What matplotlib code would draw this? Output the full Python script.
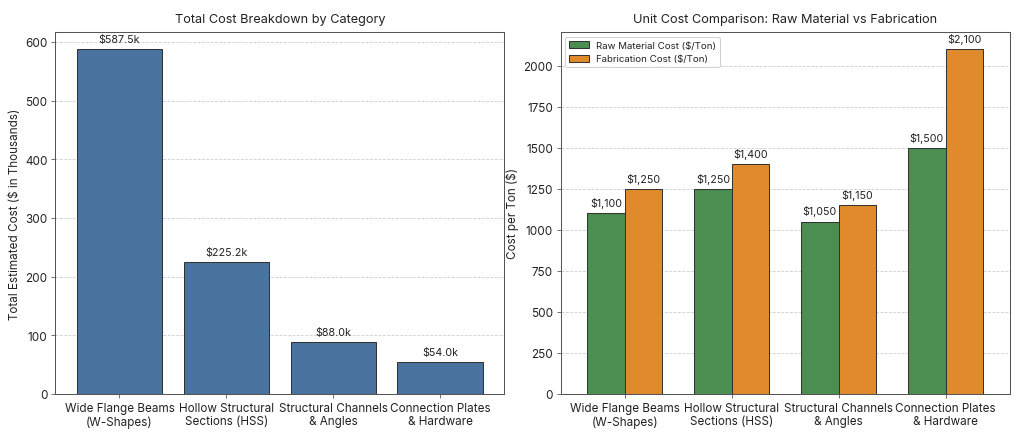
import matplotlib
matplotlib.use("Agg")
import matplotlib.pyplot as plt
import numpy as np

categories = ["Wide Flange Beams\n(W-Shapes)", "Hollow Structural\nSections (HSS)",
              "Structural Channels\n& Angles", "Connection Plates\n& Hardware"]
total_cost_k = [587.5, 225.2, 88.0, 54.0]
raw_material = [1100, 1250, 1050, 1500]
fabrication = [1250, 1400, 1150, 2100]

plt.rcParams['font.family'] = ['Inter', 'DejaVu Sans']
plt.rcParams['text.color'] = '#222222'
plt.rcParams['axes.labelcolor'] = '#222222'
plt.rcParams['xtick.color'] = '#222222'
plt.rcParams['ytick.color'] = '#222222'

fig, (ax1, ax2) = plt.subplots(1, 2, figsize=(14, 6), dpi=1024/14)
fig.subplots_adjust(left=0.054, right=0.986, bottom=0.100, top=0.925, wspace=0.125)

edge = '#333333'
for ax in (ax1, ax2):
    ax.set_axisbelow(True)
    ax.yaxis.grid(True, linestyle='--', color='#cccccc', linewidth=0.8)
    for s in ax.spines.values():
        s.set_color('#555555')
        s.set_linewidth(1.0)
    ax.tick_params(axis='both', labelsize=11.5, color='#555555', length=4)

x = np.arange(len(categories))
bars = ax1.bar(x, total_cost_k, width=0.8, color='#4a73a0', edgecolor=edge, linewidth=1)
ax1.set_ylim(0, max(total_cost_k) * 1.05)
ax1.set_xlim(-0.6, 3.6)
ax1.set_xticks(x)
ax1.set_xticklabels(categories)
ax1.set_ylabel("Total Estimated Cost ($ in Thousands)", fontsize=11.5, labelpad=4)
ax1.set_title("Total Cost Breakdown by Category", fontsize=12.5, pad=10)
for b, v in zip(bars, total_cost_k):
    ax1.annotate(f"${v:.1f}k", (b.get_x() + b.get_width()/2, b.get_height()),
                 xytext=(0, 5), textcoords='offset points', ha='center', va='bottom', fontsize=10.5)

w = 0.35
b1 = ax2.bar(x - w/2, raw_material, width=w, color='#4a8f50', edgecolor=edge, linewidth=1,
             label='Raw Material Cost ($/Ton)')
b2 = ax2.bar(x + w/2, fabrication, width=w, color='#e08a2c', edgecolor=edge, linewidth=1,
             label='Fabrication Cost ($/Ton)')
ax2.set_ylim(0, max(fabrication) * 1.05)
ax2.set_xlim(-0.6, 3.6)
ax2.set_xticks(x)
ax2.set_xticklabels(categories)
ax2.set_ylabel("Cost per Ton ($)", fontsize=11.5, labelpad=4)
ax2.set_title("Unit Cost Comparison: Raw Material vs Fabrication", fontsize=12.5, pad=10)
for bb in (b1, b2):
    for b in bb:
        ax2.annotate(f"${b.get_height():,.0f}", (b.get_x() + b.get_width()/2, b.get_height()),
                     xytext=(0, 5), textcoords='offset points', ha='center', va='bottom', fontsize=10.5)
ax2.legend(loc='upper left', fontsize=9.5, framealpha=0.9, edgecolor='#cccccc')

fig.savefig("out.png", dpi=1024/14)
